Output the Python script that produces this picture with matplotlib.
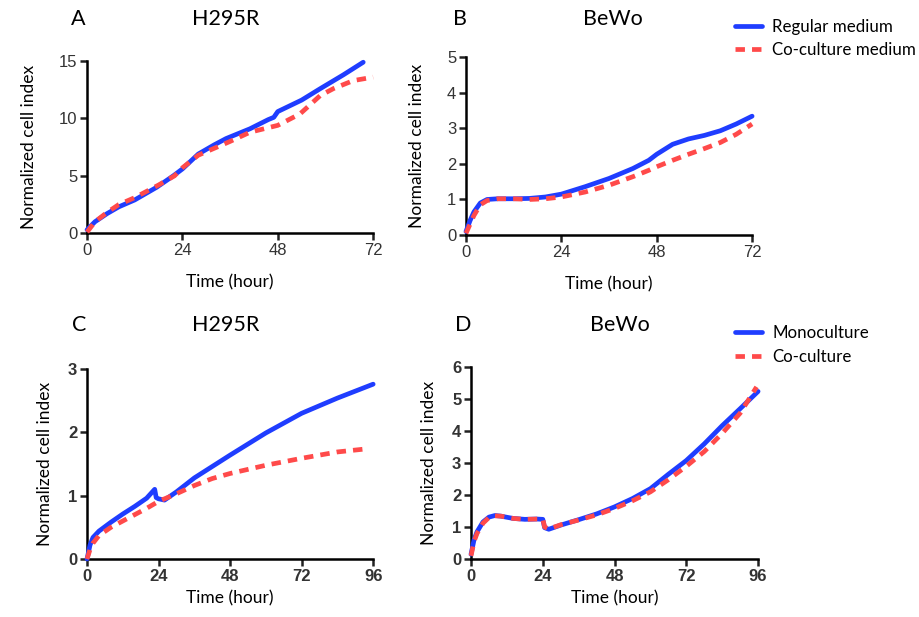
import matplotlib
matplotlib.use('Agg')
import matplotlib.pyplot as plt

# ---- data ----
A_t_reg = [0, 2, 5, 8, 12, 17.5, 21.7, 24, 28, 32, 35, 41, 45.6, 47, 48, 54, 58.7, 64.5, 69.5]
A_reg   = [0.3, 1.0, 1.7, 2.3, 2.9, 4.0, 5.0, 5.6, 6.9, 7.7, 8.25, 9.1, 9.9, 10.1, 10.6, 11.6, 12.6, 13.8, 14.9]
A_t_co  = [0, 2, 5, 8, 12, 18, 22, 24, 28, 32, 36, 41, 48, 53.6, 58.7, 62, 67, 72]
A_co    = [0.1, 1.0, 1.8, 2.5, 3.1, 4.2, 5.0, 5.7, 6.8, 7.4, 8.0, 8.8, 9.4, 10.4, 12.0, 12.6, 13.3, 13.6]

B_t     = [0, 1, 2, 3.6, 5.3, 8, 12, 16, 20, 24, 30, 36, 42, 46, 48, 52, 56, 60, 64, 68, 72]
B_reg   = [0.1, 0.4, 0.65, 0.9, 1.0, 1.02, 1.02, 1.03, 1.07, 1.15, 1.36, 1.59, 1.87, 2.1, 2.27, 2.55, 2.7, 2.8, 2.93, 3.12, 3.34]
B_co    = [0.05, 0.3, 0.55, 0.85, 0.97, 1.02, 1.02, 1.0, 1.02, 1.07, 1.21, 1.40, 1.64, 1.82, 1.92, 2.1, 2.27, 2.43, 2.6, 2.83, 3.12]

C_t_mono = [0, 1, 2, 4, 8, 12, 16, 20, 22.7, 23.2, 24, 26, 30, 36, 48, 60, 72, 84, 96]
C_mono   = [0, 0.22, 0.34, 0.44, 0.58, 0.71, 0.83, 0.96, 1.10, 0.97, 0.95, 0.93, 1.06, 1.28, 1.64, 1.99, 2.30, 2.54, 2.76]
C_t_co   = [0, 1, 2, 4, 8, 12, 16, 20, 24, 30, 36, 42, 48, 60, 72, 84, 94]
C_co     = [0, 0.15, 0.25, 0.37, 0.5, 0.6, 0.7, 0.8, 0.91, 1.03, 1.16, 1.27, 1.35, 1.48, 1.59, 1.69, 1.74]

D_t_mono = [0, 1, 2, 4, 6, 8, 10, 14, 18, 22, 24, 24.6, 26, 30, 36, 42, 48, 54, 60, 66, 72, 78, 84, 90, 96]
D_mono   = [0.15, 0.6, 0.85, 1.16, 1.31, 1.36, 1.34, 1.27, 1.24, 1.25, 1.24, 0.98, 0.93, 1.06, 1.23, 1.41, 1.63, 1.89, 2.2, 2.65, 3.08, 3.6, 4.17, 4.7, 5.24]
D_t_co   = [0, 1, 2, 4, 6, 8, 10, 14, 18, 22, 24, 24.6, 26, 30, 36, 42, 48, 54, 60, 66, 72, 78, 84, 90, 95.5]
D_co     = [0.1, 0.55, 0.8, 1.12, 1.3, 1.35, 1.34, 1.27, 1.24, 1.25, 1.25, 1.0, 0.94, 1.07, 1.22, 1.38, 1.58, 1.82, 2.1, 2.48, 2.9, 3.36, 3.93, 4.56, 5.38]

BLUE = "#1f3dff"
RED = "#ff4a4a"
LBL_FONT = "Lato"
TICK_FONT = "Liberation Sans"

fig = plt.figure(figsize=(9.2, 6.17), dpi=100)

panels = [
    # letter, title, axes rect, letter x, title x, header y, xmax, xticks, ymax, yticks, series, legend
    ("A", "H295R", [0.0946, 0.622, 0.311, 0.279], 0.085, 0.245, 0.970, 72, [0, 24, 48, 72], 15, [0, 5, 10, 15],
     [(A_t_reg, A_reg), (A_t_co, A_co)], None, False),
    ("B", "BeWo", [0.5065, 0.619, 0.311, 0.2885], 0.500, 0.666, 0.970, 72, [0, 24, 48, 72], 5, [0, 1, 2, 3, 4, 5],
     [(B_t, B_reg), (B_t, B_co)], ("Regular medium", "Co-culture medium"), False),
    ("C", "H295R", [0.0946, 0.094, 0.311, 0.308], 0.086, 0.245, 0.473, 96, [0, 24, 48, 72, 96], 3, [0, 1, 2, 3],
     [(C_t_mono, C_mono), (C_t_co, C_co)], None, True),
    ("D", "BeWo", [0.512, 0.094, 0.312, 0.311], 0.503, 0.674, 0.473, 96, [0, 24, 48, 72, 96], 6, [0, 1, 2, 3, 4, 5, 6],
     [(D_t_mono, D_mono), (D_t_co, D_co)], ("Monoculture", "Co-culture"), True),
]

for letter, title, rect, lx, tx, hy, xmax, xt, ymax, yt, series, leg, bold in panels:
    ax = fig.add_axes(rect)
    (t1, y1), (t2, y2) = series
    l1, = ax.plot(t1, y1, color=BLUE, lw=3.4, solid_capstyle="round", clip_on=False, zorder=3)
    l2, = ax.plot(t2, y2, color=RED, lw=3.4, ls=(0, (2.0, 1.5)), clip_on=False, zorder=4)
    ax.set_xlim(0, xmax)
    ax.set_ylim(0, ymax)
    ax.set_xticks(xt)
    ax.set_yticks(yt)
    for s in ["top", "right"]:
        ax.spines[s].set_visible(False)
    for s in ["left", "bottom"]:
        ax.spines[s].set_linewidth(1.8)
    ax.tick_params(direction="out", length=5, width=1.8, pad=2, labelsize=12, colors="#222222")
    for lab in ax.get_xticklabels() + ax.get_yticklabels():
        lab.set_fontfamily(TICK_FONT)
        lab.set_fontweight("bold" if bold else "normal")
        lab.set_color("#333333")
    ax.set_xlabel("Time (hour)", fontfamily=LBL_FONT, fontsize=12.5, labelpad=12 if not bold else 5)
    ax.set_ylabel("Normalized cell index", fontfamily=LBL_FONT, fontsize=12.5, labelpad=16 if not bold else 11)

    fig.text(lx, hy, letter, fontfamily=LBL_FONT, fontsize=15.5, ha="center", va="center")
    fig.text(tx, hy, title, fontfamily=LBL_FONT, fontsize=15.5, ha="center", va="center")

    if leg:
        ax.legend([l1, l2], leg, loc="upper left", frameon=False,
                  bbox_to_anchor=(0.799, hy + 0.0),
                  bbox_transform=fig.transFigure,
                  borderpad=0, borderaxespad=0,
                  prop={"family": LBL_FONT, "size": 12.2},
                  handlelength=1.6, handletextpad=0.6, labelspacing=0.45)

fig.savefig("out.png", dpi=100)
